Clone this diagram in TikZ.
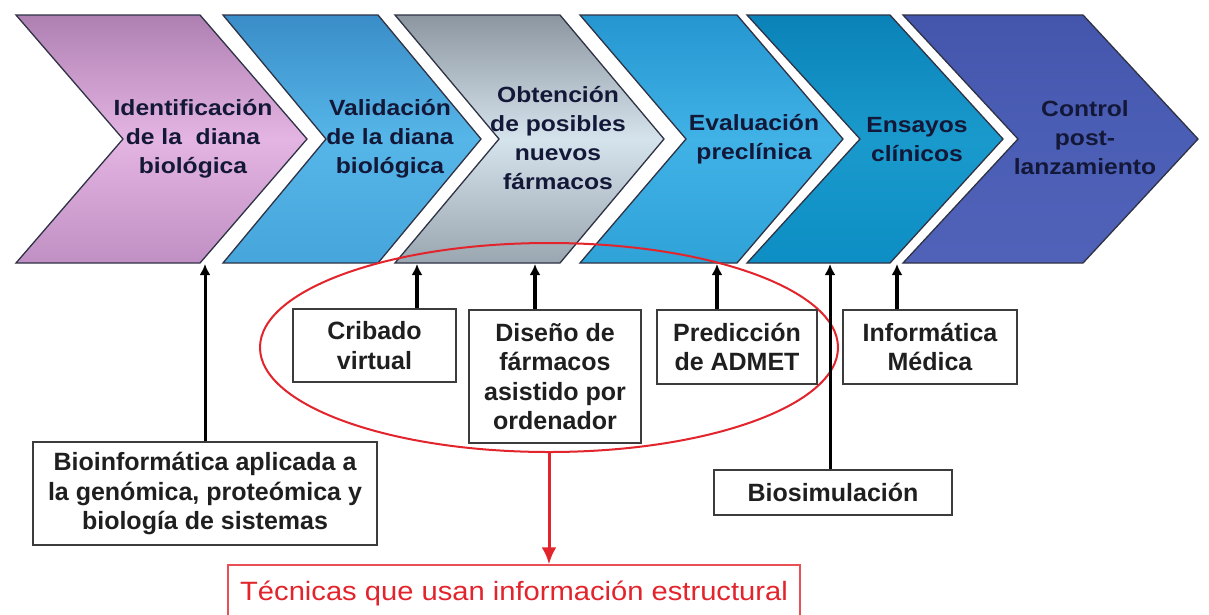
\documentclass[tikz,border=0pt]{standalone}
\usepackage{fontspec}
\setmainfont{Liberation Sans}
\newfontfamily\stagefont[FakeStretch=1.12]{Liberation Sans}
\newfontfamily\notefont[FakeStretch=1.1]{Liberation Sans}
\usepackage{tikz}
\usetikzlibrary{arrows.meta,shapes.geometric}
\tikzset{>=Latex}
\usepackage{xcolor}
\definecolor{ink}{HTML}{141838}
\definecolor{edge}{HTML}{2E3244}
\definecolor{boxline}{HTML}{3C3C3C}
\definecolor{rd}{HTML}{E2242C}
\definecolor{p1t}{HTML}{AE80B2}\definecolor{p1m}{HTML}{E4B4E2}\definecolor{p1b}{HTML}{C090C4}
\definecolor{p2t}{HTML}{3A8DC8}\definecolor{p2m}{HTML}{56B6E8}\definecolor{p2b}{HTML}{46A6DC}
\definecolor{p3t}{HTML}{8C96A0}\definecolor{p3m}{HTML}{D5E3EC}\definecolor{p3b}{HTML}{9AA6B0}
\definecolor{p4t}{HTML}{2596D0}\definecolor{p4m}{HTML}{40B2E6}\definecolor{p4b}{HTML}{2FA2D8}
\definecolor{p5t}{HTML}{0A82B8}\definecolor{p5m}{HTML}{1A9ACC}\definecolor{p5b}{HTML}{0D8EC4}
\definecolor{p6t}{HTML}{4456AC}\definecolor{p6m}{HTML}{4B5EB5}\definecolor{p6b}{HTML}{5062B8}
\tikzstyle{stage}=[draw=edge,line width=1.3pt]
\tikzstyle{stage text}=[text=ink,align=center,font=\stagefont\bfseries\fontsize{22}{29}\selectfont]
\tikzstyle{tool box}=[draw=boxline,line width=1.8pt,fill=white,align=center,inner sep=0pt,
  text=black!88,font=\bfseries\fontsize{25}{29.5}\selectfont]
\tikzstyle{tool arrow}=[->,>={Latex[length=11pt,width=11pt]},line width=3.5pt]
\tikzstyle{long arrow}=[->,>={Latex[length=11pt,width=11pt]},line width=3pt]
\tikzstyle{red arrow}=[->,>={Latex[length=17pt,width=15pt]},line width=3pt,rd]
\begin{document}
\begin{tikzpicture}[x=1pt,y=-1pt]
  \useasboundingbox (0,0) rectangle (1209,614);
  \clip (0,0) rectangle (1209,614);
  \fill[white] (0,0) rectangle (1209,614);
  % stages
  \foreach \L/\R/\d/\n in {16/200/107/1,223/378/103/2,395/560/104/3,580/737/106/4,747/890/113/5,903/1083/115/6}
    \shadedraw[stage,top color=p\n t,bottom color=p\n b,middle color=p\n m]
      (\L,15) -- (\R,15) -- (\R+\d,139) -- (\R,263) -- (\L,263) -- (\L+\d,139) -- cycle;
  \node[stage text] (s1) at (193,139) {Identificación\\de la~ diana\\biológica};
  \node[stage text] (s2) at (390,139) {Validación\\de la diana\\biológica};
  \node[stage text] (s3) at (558,138) {Obtención\\de posibles\\nuevos\\fármacos};
  \node[stage text] (s4) at (754,139) {Evaluación\\preclínica};
  \node[stage text] (s5) at (917,140) {Ensayos\\clínicos};
  \node[stage text] (s6) at (1085,138) {Control\\post-\\lanzamiento};
  % feet of the arrows
  \coordinate (t1) at (205,264);
  \coordinate (t2) at (417,264);
  \coordinate (t3) at (535,264);
  \coordinate (t4) at (717,264);
  \coordinate (t5) at (830,264);
  \coordinate (t6) at (897,264);
  \node[ellipse,draw=rd,line width=2pt,inner sep=0pt,outer sep=0pt,
        minimum width=578pt,minimum height=209pt] (ring) at (549,347.5) {};
  \node[tool box,minimum width=163pt,minimum height=73pt] (crib) at (374.5,345.5) {Cribado\\virtual};
  \node[tool box,minimum width=172pt,minimum height=133pt] (dis) at (555,376.5) {Diseño de\\fármacos\\asistido por\\ordenador};
  \node[tool box,minimum width=160pt,minimum height=74pt] (pred) at (737,347) {Predicción\\de ADMET};
  \node[tool box,minimum width=174pt,minimum height=74pt] (infm) at (930,347) {Informática\\Médica};
  \node[tool box,minimum width=344pt,minimum height=103pt] (bioinf) at (205,493.5)
    {Bioinformática aplicada a\\la genómica, proteómica y\\biología de sistemas};
  \node[tool box,minimum width=238pt,minimum height=45pt] (biosim) at (833,492.5) {Biosimulación};
  \node[tool box,draw=rd!80,line width=1.5pt,minimum width=572pt,minimum height=56pt,
        text=rd,font=\notefont\fontsize{26.5}{30}\selectfont] (tec) at (514,593)
    {Técnicas que usan información estructural};
  \draw[long arrow] (t1 |- bioinf.north) -- (t1);
  \draw[tool arrow] (t2 |- crib.north) -- (t2);
  \draw[tool arrow] (t3 |- dis.north) -- (t3);
  \draw[tool arrow] (t4 |- pred.north) -- (t4);
  \draw[long arrow] (t5 |- biosim.north) -- (t5);
  \draw[tool arrow] (t6 |- infm.north) -- (t6);
  \draw[red arrow] (ring.south) -- (ring.south |- tec.north);
\end{tikzpicture}
\end{document}
